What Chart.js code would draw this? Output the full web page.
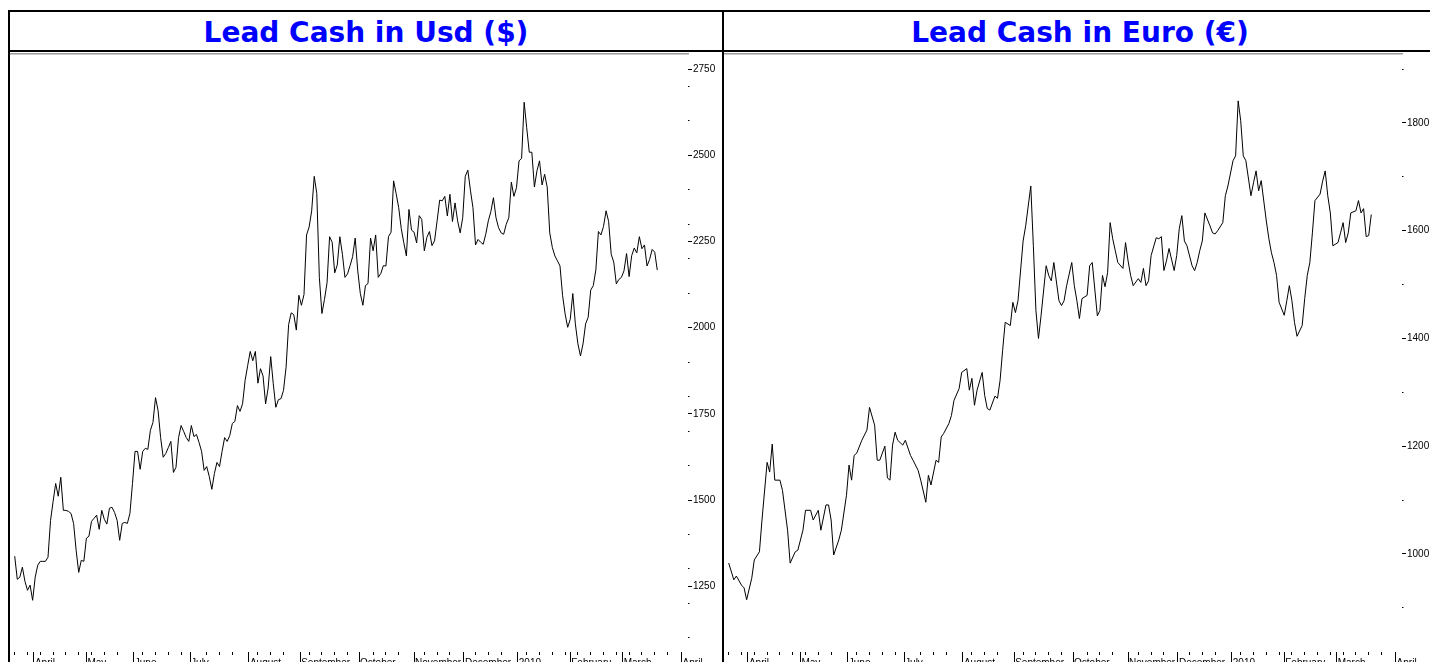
<!DOCTYPE html>
<html>
<head>
<meta charset="utf-8">
<script src="https://cdn.jsdelivr.net/npm/chart.js@4.4.4/dist/chart.umd.min.js"></script>
<style>
  html, body { margin: 0; padding: 0; background: #fff; overflow: hidden; width: 1430px; height: 662px; }
  .panel { position: absolute; top: 10px; width: 712px; height: 700px; border: 2px solid #000; border-bottom: none; }
  #p1 { left: 8px; }
  #p2 { left: 722px; }
  .title { height: 38px; border-bottom: 2px solid #000; text-align: center; font: bold 28px "DejaVu Sans", Tahoma, sans-serif; color: #0000ff; line-height: 42px; }
  .plot { position: relative; width: 712px; height: 610px; }
</style>
</head>
<body>
<div class="panel" id="p1">
  <div class="title">Lead Cash in Usd ($)</div>
  <div class="plot"><canvas id="chart-usd"></canvas></div>
</div>
<div class="panel" id="p2">
  <div class="title">Lead Cash in Euro (€)</div>
  <div class="plot"><canvas id="chart-eur"></canvas></div>
</div>
<script>
/* ── Data (LME trading days, 20 Mar 2009 → 19 Mar 2010) ──────────── */
const MONTH_LABELS = ["April", "May", "June", "July", "August", "September", "October", "November", "December", "2010", "February", "March", "April"];
const MONTH_START  = [7.5, 28, 46.5, 68.5, 91.5, 111.5, 134.5, 156, 175.5, 196.5, 217, 237.5, 260.5];
const DAY_RANGE    = [-1.84, 263];

// USD: one value per trading day
const usdPrice = [
  1337, 1270, 1276, 1305, 1264, 1238, 1253, 1209, 1276, 1311, 1322,
  1322, 1322, 1334, 1441, 1496, 1548, 1511, 1566, 1470, 1470,
  1467, 1461, 1432, 1354, 1290, 1325, 1322, 1389, 1395, 1438,
  1447, 1456, 1415, 1470, 1444, 1430, 1476, 1479, 1464, 1441,
  1383, 1432, 1435, 1432, 1461, 1548, 1641, 1641, 1589, 1641,
  1650, 1647, 1702, 1725, 1797, 1760, 1681, 1624, 1635, 1652,
  1670, 1580, 1595, 1681, 1716, 1699, 1681, 1670, 1716, 1684,
  1690, 1667, 1641, 1586, 1597, 1568, 1531, 1577, 1609, 1597,
  1641, 1681, 1670, 1687, 1722, 1728, 1774, 1757,
  1779, 1847, 1890, 1931, 1904, 1931, 1839, 1881, 1860, 1779, 1825, 1916,
  1837, 1769, 1791, 1794, 1818, 1885, 2009, 2043, 2038, 1993,
  2094, 2065, 2096, 2269, 2292, 2339, 2439, 2389, 2146, 2041,
  2082, 2130, 2264, 2248, 2159, 2182, 2264, 2213, 2146, 2156,
  2180, 2206, 2260, 2165, 2099, 2065, 2122, 2128, 2260, 2223,
  2269, 2146, 2157, 2180, 2179, 2264, 2277, 2426, 2389, 2348,
  2287, 2246, 2208, 2343, 2283, 2277, 2246, 2325, 2314, 2223,
  2262, 2279, 2238, 2252, 2310, 2370, 2368, 2381, 2324, 2387,
  2308, 2362, 2310, 2275, 2319, 2439, 2457, 2399, 2348, 2240,
  2256, 2248, 2242, 2271, 2310, 2337, 2377, 2319, 2290, 2275,
  2271, 2300, 2319, 2422, 2381, 2406, 2484, 2491, 2654, 2580,
  2509, 2509, 2408, 2455, 2484, 2414, 2445, 2408, 2275, 2233,
  2208, 2194, 2179, 2094, 2040, 2001, 2024, 2099, 2011, 1953,
  1918, 1953, 2011, 2030, 2109, 2122, 2167, 2279, 2269, 2294,
  2339, 2308, 2213, 2190, 2127, 2140, 2146, 2165, 2215, 2148,
  2209, 2231, 2217, 2264, 2229, 2240, 2179, 2198, 2227, 2219, 2167
];
const usdRange = [1059, 2794];
const usdStep  = { label: 250, minor: 100 };

// EUR: readings as (trading day, value)
const eurDay = [
  0, 2, 3, 5, 6, 7, 9, 10, 12, 13, 15, 16, 17, 18, 20, 21, 23, 24, 26, 27, 29, 30, 32, 33, 35, 36, 38, 39, 40, 41,
  43, 44, 46, 47, 48, 49, 50, 52, 54, 55, 57, 58, 59, 61, 62, 63, 64, 65, 66, 68, 69, 71, 72, 74, 75, 77, 78, 79, 81, 82,
  83, 84, 86, 87, 88, 90, 91, 93, 94, 95, 96, 97, 99, 100, 101, 102, 104, 105, 106, 107, 108, 110, 111, 112, 113, 115, 116, 118, 119, 120,
  121, 122, 124, 125, 126, 127, 129, 130, 131, 132, 134, 135, 136, 137, 138, 140, 141, 142, 144, 145, 146, 147, 148, 149, 150, 151, 152, 154, 155, 156,
  157, 158, 160, 161, 162, 163, 164, 165, 167, 168, 169, 170, 171, 172, 174, 175, 176, 177, 178, 179, 181, 182, 183, 184, 185, 186, 188, 189, 190, 191,
  193, 194, 195, 197, 198, 199, 200, 201, 202, 204, 205, 206, 207, 208, 210, 211, 212, 213, 214, 215, 217, 218, 219, 220, 221, 222, 224, 225, 226, 227,
  228, 229, 231, 232, 233, 234, 235, 236, 238, 239, 240, 241, 242, 243, 245, 246, 247, 248, 249, 250, 251
];
const eurPrice = [
  983, 952, 959, 942, 937, 915, 955, 989, 1004, 1063, 1170, 1152, 1204, 1137, 1137, 1118, 1044, 983, 1004, 1007, 1044, 1081, 1081, 1063, 1081, 1044, 1091, 1091, 1063, 998,
  1026, 1044, 1109, 1165, 1137, 1183, 1187, 1211, 1230, 1272, 1239, 1174, 1174, 1200, 1141, 1137, 1202, 1226, 1211, 1202, 1211, 1183, 1174, 1155, 1137, 1096, 1146, 1128, 1174, 1170,
  1217, 1224, 1242, 1257, 1285, 1307, 1337, 1344, 1304, 1326, 1276, 1304, 1337, 1294, 1270, 1267, 1293, 1289, 1322, 1378, 1430, 1424, 1467, 1448, 1470, 1581, 1609, 1683, 1572, 1452,
  1400, 1442, 1535, 1517, 1507, 1541, 1470, 1461, 1470, 1498, 1541, 1498, 1470, 1437, 1474, 1480, 1535, 1541, 1442, 1452, 1517, 1496, 1522, 1615, 1585, 1563, 1541, 1530, 1578, 1544,
  1517, 1498, 1511, 1504, 1530, 1498, 1507, 1554, 1587, 1585, 1589, 1526, 1544, 1567, 1526, 1554, 1604, 1628, 1581, 1572, 1535, 1526, 1541, 1563, 1581, 1633, 1609, 1596, 1594, 1600,
  1615, 1665, 1683, 1730, 1739, 1841, 1804, 1739, 1730, 1665, 1689, 1711, 1674, 1693, 1618, 1585, 1559, 1541, 1517, 1467, 1443, 1470, 1498, 1470, 1430, 1404, 1424, 1474, 1517, 1541,
  1596, 1656, 1668, 1692, 1711, 1665, 1633, 1572, 1578, 1596, 1615, 1578, 1596, 1633, 1637, 1656, 1633, 1641, 1589, 1591, 1630
];
const eurRange = [818, 1928];
const eurStep  = { label: 200, minor: 100 };

/* ── Axis tick lists ──────────────────────────────────────────────── */
function dayTicks() {
  const list = MONTH_START.slice();
  for (let d = 0; d < DAY_RANGE[1]; d += 5) {
    if (MONTH_START.every(m => Math.abs(m - d) > 1.5)) list.push(d);
  }
  return list.sort((a, b) => a - b);
}

function priceTicks(range, step) {
  const list = [];
  for (let v = Math.ceil(range[0] / 50) * 50; v <= range[1]; v += 50) {
    if (v % step.label === 0 || v % step.minor === 0) list.push(v);
  }
  return list;
}

// drop the label padding Chart.js reserves at the axis ends
function noEdgePadding(s) {
  s.paddingTop = 0; s.paddingBottom = 0; s.paddingLeft = 0; s.paddingRight = 0;
}

const AXIS_FONT = { family: "'Liberation Sans', Arial, sans-serif", size: 10 };

function makeChart(id, points, range, step) {
  const xTicks = dayTicks();
  return new Chart(document.getElementById(id), {
    type: "line",
    data: { datasets: [{ data: points, borderColor: "#000", borderWidth: 1, pointRadius: 0, tension: 0, fill: false }] },
    options: {
      responsive: true, maintainAspectRatio: false, animation: false, events: [],
      layout: { padding: { top: 2, left: 0, right: 0, bottom: 0 } },
      plugins: { legend: { display: false }, tooltip: { enabled: false } },
      scales: {
        x: {
          type: "linear", position: "bottom", min: DAY_RANGE[0], max: DAY_RANGE[1],
          afterBuildTicks: s => { s.ticks = xTicks.map(v => ({ value: v })); },
          afterFit: s => { s.height = 10; noEdgePadding(s); },
          border: { display: false },
          grid: {
            drawOnChartArea: false, tickLength: 12, tickWidth: 1, tickColor: "#000",
            tickBorderDash: ctx => MONTH_START.includes(ctx.tick.value) ? [] : [3, 30]
          },
          ticks: {
            autoSkip: false, maxRotation: 0, align: "start", labelOffset: 1, padding: -7,
            color: "#000", font: AXIS_FONT,
            callback: v => { const i = MONTH_START.indexOf(v); return i >= 0 ? MONTH_LABELS[i] : ""; }
          }
        },
        xTop: {
          type: "linear", position: "top", min: DAY_RANGE[0], max: DAY_RANGE[1],
          afterFit: s => { s.height = 0; noEdgePadding(s); },
          grid: { display: false, drawTicks: false }, ticks: { display: false },
          border: { display: true, color: "#9a9a9a", width: 1.5 }
        },
        y: {
          type: "linear", position: "right", min: range[0], max: range[1],
          afterBuildTicks: s => { s.ticks = priceTicks(range, step).map(v => ({ value: v })); },
          afterFit: s => { s.width = 34; noEdgePadding(s); },
          border: { display: false },
          grid: {
            drawOnChartArea: false, tickLength: 7, tickWidth: 1, tickColor: "#000",
            tickBorderDash: ctx => ctx.tick.value % step.label === 0 ? [4, 30] : [1.5, 30]
          },
          ticks: {
            autoSkip: false, padding: -2, color: "#000", font: AXIS_FONT,
            callback: v => v % step.label === 0 ? String(v) : ""
          }
        }
      }
    }
  });
}

makeChart("chart-usd", usdPrice.map((v, i) => ({ x: i, y: v })), usdRange, usdStep);
makeChart("chart-eur", eurPrice.map((v, i) => ({ x: eurDay[i], y: v })), eurRange, eurStep);
</script>
</body>
</html>
